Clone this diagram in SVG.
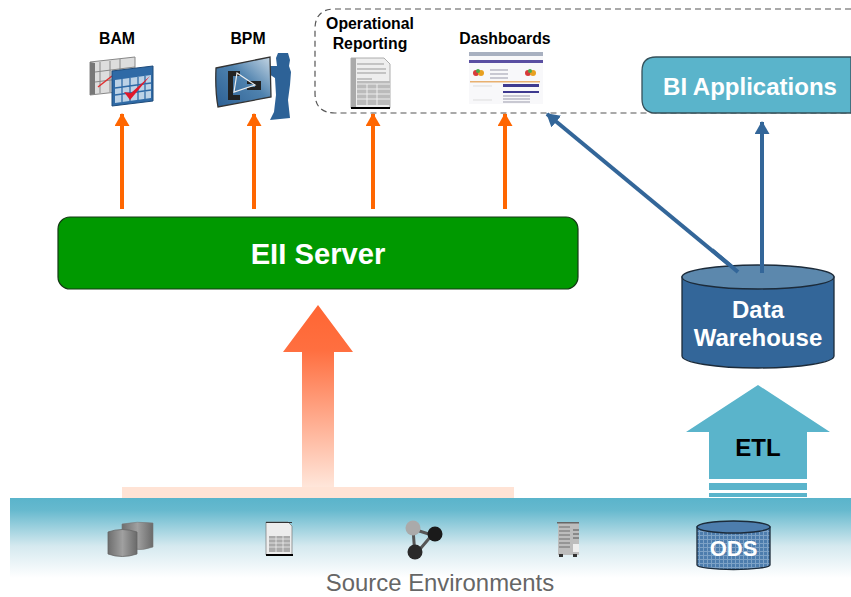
<svg xmlns="http://www.w3.org/2000/svg" width="851" height="597" viewBox="0 0 851 597">
<style>
text{font-family:"Liberation Sans",Arial,sans-serif;text-anchor:middle}
.b{font-weight:bold}
.w{fill:#fff;font-weight:bold}
.lab{font-size:15.8px;font-weight:bold;fill:#000}
.or{stroke:#FF6600;stroke-width:4;fill:none;marker-end:url(#mo)}
.bl{stroke:#336699;stroke-width:4;fill:none;marker-end:url(#mb)}
.cyl{stroke:#1c2b3a;stroke-width:1.3}
</style>
<defs>
<marker id="mo" markerUnits="userSpaceOnUse" markerWidth="15" markerHeight="16" refX="12" refY="7.5" orient="auto"><path d="M0 0L13 7.500L0 15Z" fill="#FF6600"/></marker>
<marker id="mb" markerUnits="userSpaceOnUse" markerWidth="15" markerHeight="16" refX="12" refY="7.5" orient="auto"><path d="M0 0L13 7.500L0 15Z" fill="#336699"/></marker>
<linearGradient id="band" x1="0" y1="0" x2="0" y2="1"><stop offset="0" stop-color="#5AB4CB"/><stop offset=".15" stop-color="#66B9CE"/><stop offset=".6" stop-color="#D5E9EF"/><stop offset="1" stop-color="#fff"/></linearGradient>
<linearGradient id="big" x1="0" y1="0" x2="0" y2="1"><stop offset="0" stop-color="#FF6633"/><stop offset=".25" stop-color="#FF6F40"/><stop offset="1" stop-color="#FFE6DA"/></linearGradient>
<linearGradient id="gray" x1="0" y1="0" x2="1" y2="0"><stop offset="0" stop-color="#6e6e6e"/><stop offset=".5" stop-color="#a0a0a0"/><stop offset="1" stop-color="#6a6a6a"/></linearGradient>
<linearGradient id="bpm" x1="0" y1="1" x2="1" y2="0"><stop offset="0" stop-color="#2B5F94"/><stop offset=".55" stop-color="#4F82AE"/><stop offset="1" stop-color="#C5D6E4"/></linearGradient>
<pattern id="ods" width="4" height="4" patternUnits="userSpaceOnUse"><rect width="4" height="4" fill="#4D7DAD"/><path d="M0 3.500H4M3.500 0V4" stroke="#7DA2C6" stroke-width="1"/></pattern>
</defs>

<g id="source-band"><rect x="10" y="498" width="841" height="80" fill="url(#band)"/></g>
<g id="source-label"><text x="440" y="591" font-size="23.900" fill="#666">Source Environments</text></g>

<g id="etl-arrow">
<path d="M758 385L830 432H807V479H709V432H686Z" fill="#5AB4CB"/>
<rect x="709" y="483" width="98" height="7" fill="#5AB4CB"/>
<rect x="709" y="493" width="98" height="4" fill="#5AB4CB"/>
<text x="758" y="456" font-size="24" class="b" fill="#000">ETL</text>
</g>

<g id="big-arrow">
<rect x="122" y="487" width="392" height="11" fill="#FFE3D5"/>
<path d="M318 305L353 352H334V487H302V352H283Z" fill="url(#big)"/>
</g>

<g id="dashed-group"><path d="M851 9H335Q315 9 315 29V93Q315 113 335 113H851" fill="none" stroke="#555" stroke-width="1.2" stroke-dasharray="6 4"/></g>

<g id="bi-apps">
<path d="M851 57H656Q642 57 642 71V99Q642 113 656 113H851Z" fill="#5AB4CB" stroke="#35505a" stroke-width="1.3"/>
<text x="750" y="95" font-size="24" class="w">BI Applications</text>
</g>

<g id="eii-server">
<rect x="58" y="217" width="520" height="72" rx="12" fill="#009900" stroke="#143814" stroke-width="1.2"/>
<text x="318" y="264" font-size="29.200" class="w">EII Server</text>
</g>

<g id="connectors">
<path class="or" d="M122 209V114"/>
<path class="or" d="M254 209V114"/>
<path class="or" d="M373 209V114"/>
<path class="or" d="M505 209V114"/>
<path class="bl" d="M738 272L547 114"/>
<path class="bl" d="M762 273V122"/>
</g>

<g id="data-warehouse">
<path class="cyl" d="M682 277V356A76 12 0 0 0 834 356V277Z" fill="#336699"/>
<ellipse class="cyl" cx="758" cy="277" rx="76" ry="12" fill="#5C88AD"/>
<path d="M738 272L712 250M762 273V250" stroke="#336699" stroke-width="4" fill="none"/>
<text x="758" y="318" font-size="24" class="w">Data</text>
<text x="758" y="346" font-size="24" class="w">Warehouse</text>
</g>

<g id="bam">
<text x="117" y="44" class="lab">BAM</text>
<path d="M90 62L135 57V90L90 95Z" fill="#ddd" stroke="#888" stroke-width="1"/>
<path d="M90 62L95 63V94L90 95Z" fill="#777"/>
<path d="M100 62V93M110 61V92M120 59V91M95 72L135 67M95 82L135 77" stroke="#888" stroke-width="1"/>
<path d="M98 87L112 76" stroke="#e03030" stroke-width="1.500"/>
<path d="M112 71L153 66V101L112 106Z" fill="#2F6AA6" stroke="#1d4a7a" stroke-width="1"/>
<path d="M115 80L151 75V98L115 103Z" fill="#BCD2E6"/>
<path d="M122 79V102M130 78V101M138 77V100M145 76V99M115 88L151 83M115 95L151 90" stroke="#2F6AA6" stroke-width="1.300"/>
<path d="M124 92L130 100L150 76L131 93Z" fill="#E0182A"/>
</g>

<g id="bpm">
<text x="248" y="44" class="lab">BPM</text>
<path d="M278 53H288L290 60L289 66L291 72L290 85L288 100L290 118L270 120L274 112L276 95L275 78L266 72L270 66L277 66L276 58Z" fill="#2D6297"/>
<path d="M216 68L270 57L271 97L218 107Q215 90 216 68Z" fill="url(#bpm)" stroke="#333" stroke-width="1.300"/>
<path d="M228 71H240V76H233V95H240V100H228ZM247 81H261V90H247V87H255V84H247Z" fill="#222"/>
<path d="M237 73L255 85L234 92Z" fill="none" stroke="#eee" stroke-width="1.200"/>
</g>

<g id="operational-reporting">
<text x="370" y="29" class="lab">Operational</text>
<text x="370" y="49" class="lab">Reporting</text>
<path d="M351 58H384L390 64V108H351Z" fill="#eee" stroke="#999" stroke-width=".8"/>
<rect x="351" y="107" width="39" height="2" fill="#000"/>
<path d="M351 58H356V107H351Z" fill="#aaa"/>
<path d="M357 64H384M357 69H386M357 73H386M357 79H372" stroke="#999" stroke-width="1"/>
<rect x="357" y="81" width="33" height="24" fill="#bbb"/>
<path d="M357 84H390M357 89H390M357 94H390M357 99H390" stroke="#eee" stroke-width="1.200"/>
<path d="M367 84V105M377 84V105" stroke="#eee" stroke-width="1"/>
</g>

<g id="dashboards">
<text x="505" y="44" class="lab">Dashboards</text>
<rect x="469" y="52" width="74" height="52" fill="#F8F8FA"/>
<rect x="469" y="52" width="74" height="4" fill="#A8B0C0"/>
<rect x="469" y="60" width="74" height="3" fill="#5A4FA2"/>
<circle cx="476" cy="73" r="3" fill="#D83A3A"/><circle cx="481" cy="73" r="3" fill="#E8A020"/><circle cx="478" cy="71" r="2" fill="#4BA84B"/>
<circle cx="528" cy="73" r="3" fill="#D83A3A"/><circle cx="533" cy="73" r="3" fill="#E8A020"/><circle cx="530" cy="71" r="2" fill="#4BA84B"/>
<path d="M490 70H508M490 74H508M490 78H508" stroke="#99a" stroke-width="1"/>
<rect x="470" y="81" width="70" height="1.500" fill="#E8B070"/>
<rect x="503" y="84" width="36" height="3" fill="#3E3A90"/>
<rect x="503" y="91" width="36" height="2" fill="#3E3A90"/>
<path d="M503 96H530M503 99H530M503 102H530" stroke="#99a" stroke-width="1"/>
<path d="M473 86H492M473 100H492" stroke="#ddd" stroke-width="1"/>
</g>

<g id="src-databases">
<path d="M122 524Q137 521 153 523V547Q143 551 132 549H122Z" fill="url(#gray)" stroke="#777" stroke-width=".6"/>
<path d="M108 532Q122 527 137 532V554Q122 559 108 554Z" fill="url(#gray)" stroke="#666" stroke-width=".8"/>
</g>
<g id="src-report">
<path d="M266 522H288L292 526V555H266Z" fill="#EDEDED" stroke="#777" stroke-width=".7"/>
<rect x="266" y="522" width="26" height="1" fill="#333"/>
<rect x="266" y="554" width="27" height="2" fill="#000"/>
<rect x="269" y="536" width="21" height="16" fill="#aaa"/>
<path d="M269 539H290M269 543H290M269 547H290M276 536V552M283 536V552M269 527H289M269 531H289" stroke="#eee" stroke-width=".8"/>
</g>
<g id="src-network">
<path d="M413 529L432 535L415 555Z" fill="none" stroke="#555" stroke-width="3"/>
<circle cx="413" cy="528" r="7.500" fill="#aaa"/>
<circle cx="435" cy="534" r="7.500" fill="#1a1a1a"/>
<circle cx="415" cy="552" r="7.500" fill="#2a2a2a"/>
</g>
<g id="src-server">
<rect x="558" y="522" width="21" height="33" fill="#bdbdbd"/>
<rect x="557" y="522" width="22" height="1.500" fill="#666"/>
<path d="M559 527H570M559 531H570M559 535H570M559 539H570M559 543H570M559 547H570" stroke="#888" stroke-width="1.400"/>
<rect x="573" y="544" width="6" height="8" fill="#eee"/>
<path d="M573 530H579M573 534H579M573 538H579" stroke="#555" stroke-width="1"/>
<rect x="559" y="554" width="4" height="3" fill="#333"/><rect x="573" y="554" width="4" height="3" fill="#333"/>
</g>
<g id="ods">
<path class="cyl" d="M697 527V565A36.500 4.500 0 0 0 770 565V527Z" fill="url(#ods)"/>
<ellipse class="cyl" cx="733.500" cy="527" rx="36.500" ry="6" fill="#4D7DAD"/>
<text x="733.500" y="556" font-size="22" class="w">ODS</text>
</g>
</svg>
